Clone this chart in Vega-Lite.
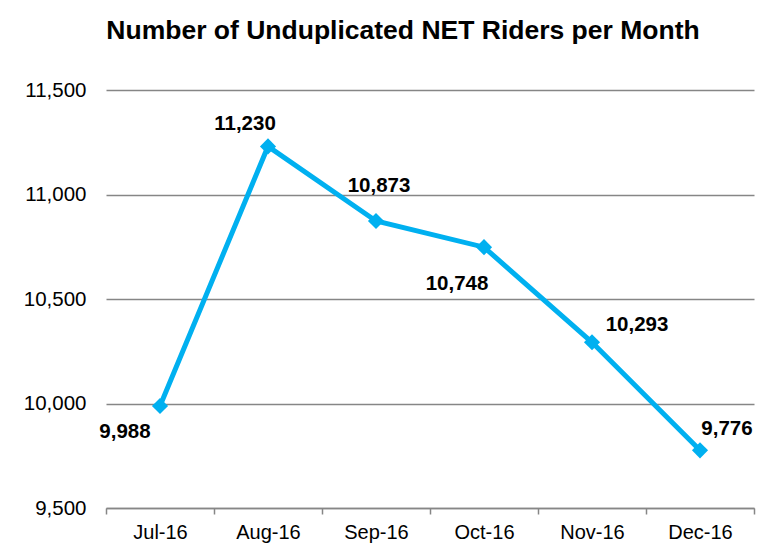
{
  "$schema": "https://vega.github.io/schema/vega-lite/v6.json",
  "autosize": "none",
  "width": 648,
  "height": 418,
  "padding": {"left": 106, "top": 90, "right": 22, "bottom": 49},
  "background": "white",
  "title": {
    "text": "Number of Unduplicated NET Riders per Month",
    "font": "Liberation Sans",
    "fontSize": 26.5,
    "fontWeight": "bold",
    "color": "#000000",
    "anchor": "middle",
    "baseline": "alphabetic",
    "offset": 15,
    "dx": -27
  },
  "data": {
    "values": [
      {"month": "Jul-16", "riders": 9988},
      {"month": "Aug-16", "riders": 11230},
      {"month": "Sep-16", "riders": 10873},
      {"month": "Oct-16", "riders": 10748},
      {"month": "Nov-16", "riders": 10293},
      {"month": "Dec-16", "riders": 9776}
    ]
  },
  "encoding": {
    "x": {
      "field": "month",
      "type": "ordinal",
      "sort": null,
      "scale": {"paddingInner": 0, "paddingOuter": 0},
      "axis": {
        "title": null,
        "labelAngle": 0,
        "labelFont": "Liberation Sans",
        "labelFontSize": 20,
        "labelColor": "#000000",
        "labelPadding": 8,
        "tickBand": "extent",
        "tickSize": 6,
        "tickColor": "#868686",
        "tickWidth": 1.5,
        "domainColor": "#868686",
        "domainWidth": 1.5,
        "grid": false
      }
    },
    "y": {
      "field": "riders",
      "type": "quantitative",
      "scale": {"domain": [9500, 11500], "nice": false, "zero": false},
      "axis": {
        "title": null,
        "values": [9500, 10000, 10500, 11000, 11500],
        "format": ",d",
        "labelFont": "Liberation Sans",
        "labelFontSize": 20.5,
        "labelColor": "#000000",
        "labelPadding": 20,
        "ticks": false,
        "domain": false,
        "grid": true,
        "gridColor": "#868686",
        "gridWidth": 1.5
      }
    }
  },
  "layer": [
    {
      "mark": {"type": "line", "color": "#00B0F0", "strokeWidth": 5}
    },
    {
      "mark": {"type": "point", "shape": "diamond", "filled": true, "size": 260, "color": "#00B0F0", "opacity": 1}
    },
    {
      "transform": [{"filter": "datum.month == 'Jul-16'"}],
      "mark": {"type": "text", "dx": -35, "dy": 26, "font": "Liberation Sans", "fontSize": 20.5, "fontWeight": "bold", "baseline": "middle", "align": "center", "color": "#000000"},
      "encoding": {"text": {"field": "riders", "type": "quantitative", "format": ",d"}}
    },
    {
      "transform": [{"filter": "datum.month == 'Aug-16'"}],
      "mark": {"type": "text", "dx": -23, "dy": -22, "font": "Liberation Sans", "fontSize": 20.5, "fontWeight": "bold", "baseline": "middle", "align": "center", "color": "#000000"},
      "encoding": {"text": {"field": "riders", "type": "quantitative", "format": ",d"}}
    },
    {
      "transform": [{"filter": "datum.month == 'Sep-16'"}],
      "mark": {"type": "text", "dx": 3, "dy": -35, "font": "Liberation Sans", "fontSize": 20.5, "fontWeight": "bold", "baseline": "middle", "align": "center", "color": "#000000"},
      "encoding": {"text": {"field": "riders", "type": "quantitative", "format": ",d"}}
    },
    {
      "transform": [{"filter": "datum.month == 'Oct-16'"}],
      "mark": {"type": "text", "dx": -27, "dy": 37, "font": "Liberation Sans", "fontSize": 20.5, "fontWeight": "bold", "baseline": "middle", "align": "center", "color": "#000000"},
      "encoding": {"text": {"field": "riders", "type": "quantitative", "format": ",d"}}
    },
    {
      "transform": [{"filter": "datum.month == 'Nov-16'"}],
      "mark": {"type": "text", "dx": 45, "dy": -17, "font": "Liberation Sans", "fontSize": 20.5, "fontWeight": "bold", "baseline": "middle", "align": "center", "color": "#000000"},
      "encoding": {"text": {"field": "riders", "type": "quantitative", "format": ",d"}}
    },
    {
      "transform": [{"filter": "datum.month == 'Dec-16'"}],
      "mark": {"type": "text", "dx": 27, "dy": -21, "font": "Liberation Sans", "fontSize": 20.5, "fontWeight": "bold", "baseline": "middle", "align": "center", "color": "#000000"},
      "encoding": {"text": {"field": "riders", "type": "quantitative", "format": ",d"}}
    }
  ],
  "config": {
    "view": {"stroke": null}
  }
}
